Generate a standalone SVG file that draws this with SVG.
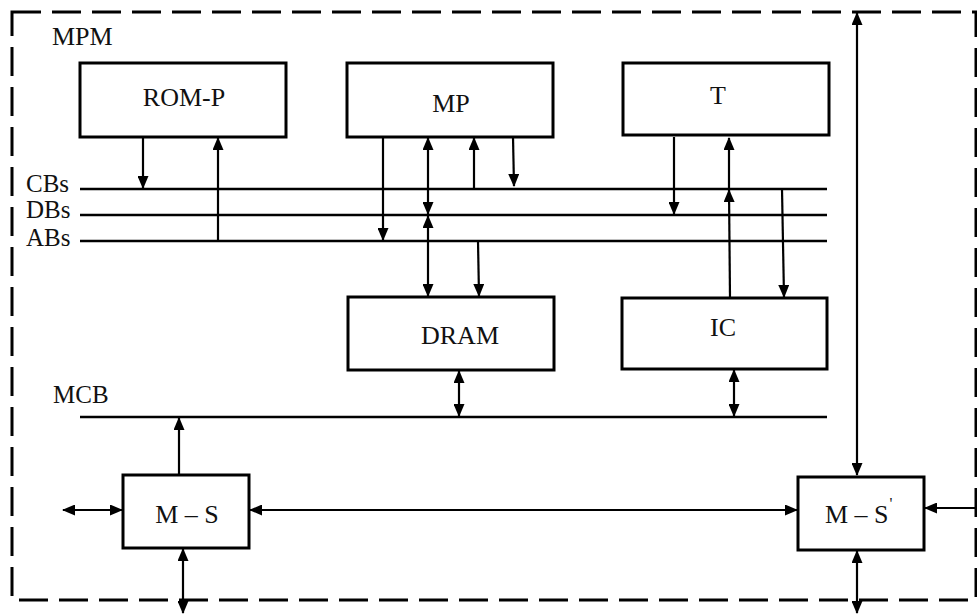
<svg xmlns="http://www.w3.org/2000/svg" width="977" height="615" viewBox="0 0 977 615">
<style>
.box{fill:#fff;stroke:#000;stroke-width:3}
.lbl{font-family:"Liberation Serif","Times New Roman",serif;font-size:26px;fill:#111}
.bl{font-size:25px}
.bus{stroke:#000;stroke-width:2.5;fill:none}
.c{stroke:#000;stroke-width:2.2;fill:none}
.a{marker-end:url(#ah)}
.b{marker-start:url(#ah);marker-end:url(#ah)}
</style>
<defs>
<marker id="ah" markerUnits="userSpaceOnUse" markerWidth="13" markerHeight="11" refX="12" refY="5.5" orient="auto-start-reverse" viewBox="0 0 13 11">
<path d="M0,0 L13,5.5 L0,11 z" fill="#000"/>
</marker>
</defs>
<rect x="12" y="12" width="964" height="588" fill="none" stroke="#000" stroke-width="3" stroke-dasharray="29,11"/>
<text class="lbl" x="52" y="45">MPM</text>

<g id="buses">
<line class="bus" x1="80" y1="189" x2="827" y2="189"/>
<line class="bus" x1="80" y1="215" x2="827" y2="215"/>
<line class="bus" x1="80" y1="241" x2="827" y2="241"/>
<line class="bus" x1="80" y1="417" x2="827" y2="417"/>
<text class="lbl bl" x="26" y="192">CBs</text>
<text class="lbl bl" x="26" y="218">DBs</text>
<text class="lbl bl" x="26" y="246">ABs</text>
<text class="lbl bl" x="53" y="403">MCB</text>
</g>

<g id="connectors">
<line class="c a" x1="143" y1="137" x2="143" y2="188"/>
<line class="c a" x1="218" y1="241" x2="218" y2="138"/>
<line class="c a" x1="383" y1="137" x2="383" y2="240"/>
<line class="c b" x1="428" y1="138" x2="428" y2="214"/>
<line class="c b" x1="428" y1="216" x2="428" y2="296"/>
<line class="c a" x1="474" y1="189" x2="474" y2="138"/>
<line class="c a" x1="513" y1="137" x2="514" y2="186"/>
<line class="c a" x1="478" y1="241" x2="479" y2="296"/>
<line class="c a" x1="674" y1="137" x2="674" y2="214"/>
<line class="c a" x1="730" y1="298" x2="729" y2="190"/>
<line class="c a" x1="729" y1="190" x2="729" y2="138"/>
<line class="c a" x1="782" y1="189" x2="784" y2="297"/>
<line class="c b" x1="459" y1="371" x2="459" y2="416"/>
<line class="c b" x1="734" y1="370" x2="734" y2="416"/>
<line class="c b" x1="857" y1="13" x2="857" y2="475"/>
<line class="c a" x1="179" y1="475" x2="179" y2="418"/>
<line class="c b" x1="63" y1="510" x2="122" y2="510"/>
<line class="c b" x1="250" y1="510" x2="797" y2="510"/>
<line class="c a" x1="977" y1="508" x2="925" y2="508"/>
<line class="c b" x1="183" y1="549" x2="183" y2="613"/>
<line class="c b" x1="857" y1="551" x2="857" y2="613"/>
</g>

<g id="rom-p"><rect class="box" x="80" y="63" width="206" height="74"/><text class="lbl" x="184" y="106" text-anchor="middle">ROM-P</text></g>
<g id="mp"><rect class="box" x="347" y="63" width="206" height="74"/><text class="lbl" x="451" y="112" text-anchor="middle">MP</text></g>
<g id="t"><rect class="box" x="623" y="63" width="206" height="72"/><text class="lbl" x="718" y="104" text-anchor="middle">T</text></g>
<g id="dram"><rect class="box" x="348" y="297" width="206" height="73"/><text class="lbl" x="460" y="344" text-anchor="middle">DRAM</text></g>
<g id="ic"><rect class="box" x="622" y="298" width="205" height="71"/><text class="lbl" x="723" y="336" text-anchor="middle">IC</text></g>
<g id="m-s"><rect class="box" x="123" y="475" width="126" height="73"/><text class="lbl" x="187" y="523" text-anchor="middle">M – S</text></g>
<g id="m-s-prime"><rect class="box" x="798" y="477" width="126" height="73"/><text class="lbl" x="825" y="523">M – S<tspan font-size="16" dx="1" dy="-14">'</tspan></text></g>
</svg>
